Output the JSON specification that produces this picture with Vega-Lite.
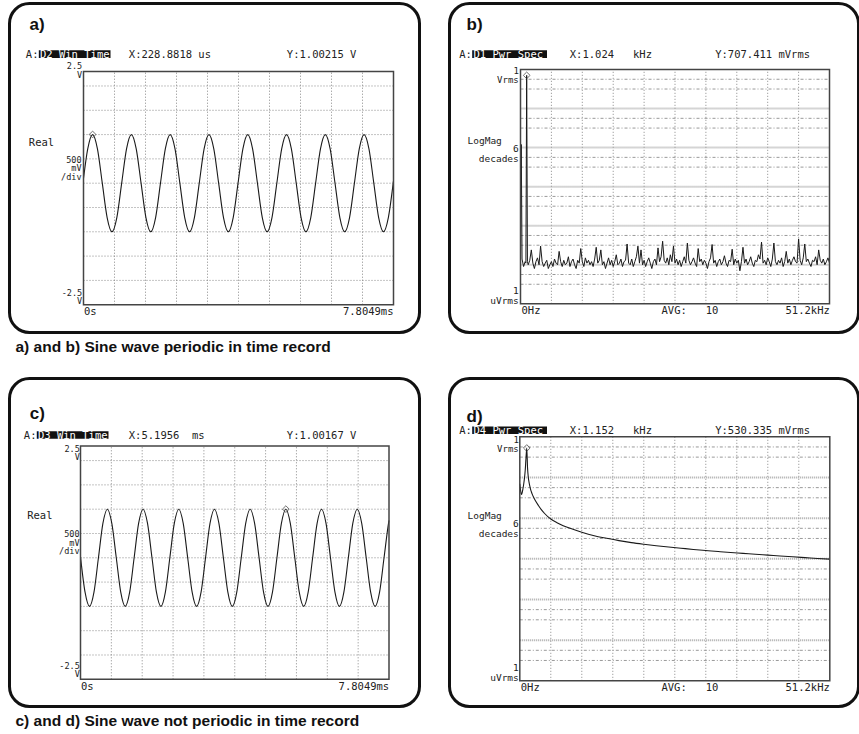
{
 "$schema": "https://vega.github.io/schema/vega-lite/v6.json",
 "background": "white",
 "padding": {"left": 7.5, "top": 1.5, "right": 0, "bottom": 0},
 "spacing": 21,
 "config": {
  "view": {"stroke": "#111", "strokeWidth": 3, "cornerRadius": 20, "fill": "white"},
  "text": {"font": "DejaVu Sans Mono", "fontSize": 10.5, "color": "#222"}
 },
 "vconcat": [
  {
   "spacing": 26,
   "title": {"text": "a) and b) Sine wave periodic in time record", "orient": "bottom", "anchor": "start", "frame": "group", "font": "Liberation Sans", "fontSize": 15.5, "fontWeight": "bold", "color": "#111", "offset": 6, "dx": 6, "baseline": "top"},
   "hconcat": [
    {
     "width": 410, "height": 329,
     "layer": [
      {"data": {"values": [{"g":0.78049},{"g":1.56098},{"g":2.34147},{"g":3.12196},{"g":3.90245},{"g":4.68294},{"g":5.46343},{"g":6.24392},{"g":7.02441}]},
       "mark": {"type": "rule", "color": "#888", "strokeDash": [1,2], "strokeWidth": 1},
       "encoding": {"x": {"field": "g", "type": "quantitative", "axis": null}, "y": {"datum": -2.5, "type": "quantitative", "axis": null}, "y2": {"datum": 2.3}}},
      {"data": {"values": [{"h":-2},{"h":-1.5},{"h":-1},{"h":-0.5},{"h":0},{"h":0.5},{"h":1},{"h":1.5},{"h":2}]},
       "mark": {"type": "rule", "color": "#888", "strokeDash": [1,2], "strokeWidth": 1},
       "encoding": {"y": {"field": "h", "type": "quantitative", "axis": null}, "x": {"datum": 0, "type": "quantitative", "axis": null}, "x2": {"datum": 7.8049}}},
      {"data": {"values": [{"t":0,"v":0.098},{"t":0.1068,"v":0.707},{"t":0.2289,"v":1},{"t":0.351,"v":0.707},{"t":0.473,"v":0},{"t":0.5951,"v":-0.707},{"t":0.7172,"v":-1},{"t":0.8393,"v":-0.707},{"t":0.9613,"v":0},{"t":1.0834,"v":0.707},{"t":1.2055,"v":1},{"t":1.3275,"v":0.707},{"t":1.4496,"v":0},{"t":1.5717,"v":-0.707},{"t":1.6937,"v":-1},{"t":1.8158,"v":-0.707},{"t":1.9379,"v":0},{"t":2.06,"v":0.707},{"t":2.182,"v":1},{"t":2.3041,"v":0.707},{"t":2.4262,"v":0},{"t":2.5482,"v":-0.707},{"t":2.6703,"v":-1},{"t":2.7924,"v":-0.707},{"t":2.9144,"v":0},{"t":3.0365,"v":0.707},{"t":3.1586,"v":1},{"t":3.2807,"v":0.707},{"t":3.4027,"v":0},{"t":3.5248,"v":-0.707},{"t":3.6469,"v":-1},{"t":3.7689,"v":-0.707},{"t":3.891,"v":0},{"t":4.0131,"v":0.707},{"t":4.1351,"v":1},{"t":4.2572,"v":0.707},{"t":4.3793,"v":0},{"t":4.5014,"v":-0.707},{"t":4.6234,"v":-1},{"t":4.7455,"v":-0.707},{"t":4.8676,"v":0},{"t":4.9896,"v":0.707},{"t":5.1117,"v":1},{"t":5.2338,"v":0.707},{"t":5.3558,"v":0},{"t":5.4779,"v":-0.707},{"t":5.6,"v":-1},{"t":5.7221,"v":-0.707},{"t":5.8441,"v":0},{"t":5.9662,"v":0.707},{"t":6.0883,"v":1},{"t":6.2103,"v":0.707},{"t":6.3324,"v":0},{"t":6.4545,"v":-0.707},{"t":6.5765,"v":-1},{"t":6.6986,"v":-0.707},{"t":6.8207,"v":0},{"t":6.9428,"v":0.707},{"t":7.0648,"v":1},{"t":7.1869,"v":0.707},{"t":7.309,"v":0},{"t":7.431,"v":-0.707},{"t":7.5531,"v":-1},{"t":7.6752,"v":-0.707},{"t":7.7972,"v":0},{"t":7.8049,"v":0.05}]},
       "mark": {"type": "line", "color": "#1a1a1a", "strokeWidth": 1.1, "interpolate": "monotone"},
       "encoding": {
        "x": {"field": "t", "type": "quantitative", "scale": {"domain": [0, 7.8049], "range": [74, 384], "nice": false, "zero": false}, "axis": null},
        "y": {"field": "v", "type": "quantitative", "scale": {"domain": [-2.5, 2.3], "range": [301.2, 67.9], "nice": false, "zero": false}, "axis": null}
       }},
      {"data": {"values": [{"t": 0.2289, "v": 1.00215}]},
       "mark": {"type": "point", "shape": "diamond", "filled": false, "size": 45, "color": "#333", "strokeWidth": 1},
       "encoding": {"x": {"field": "t", "type": "quantitative", "axis": null}, "y": {"field": "v", "type": "quantitative", "axis": null}}},
      {"data": {"values": [{}]},
       "layer": [
        {"mark": {"type": "rect", "filled": false, "stroke": "#444", "strokeWidth": 1.5},
         "encoding": {"x": {"datum": 0, "type": "quantitative", "axis": null}, "x2": {"datum": 7.8049}, "y": {"datum": -2.5, "type": "quantitative", "axis": null}, "y2": {"datum": 2.3}}},
        {"mark": {"type": "text", "font": "Liberation Sans", "fontWeight": "bold", "fontSize": 17, "color": "#111", "align": "left", "baseline": "middle"},
         "encoding": {"x": {"datum": -1.36, "type": "quantitative", "axis": null}, "y": {"datum": 3.245, "type": "quantitative", "axis": null}, "text": {"value": "a)"}}},
        {"mark": {"type": "text", "align": "right", "baseline": "middle"},
         "encoding": {"x": {"datum": -1.133, "type": "quantitative", "axis": null}, "y": {"datum": 2.644, "type": "quantitative", "axis": null}, "text": {"value": "A:"}}},
        {"mark": {"type": "rect", "color": "#111"},
         "encoding": {"x": {"datum": -1.125, "type": "quantitative", "axis": null}, "x2": {"datum": 0.68}, "y": {"datum": 2.576, "type": "quantitative", "axis": null}, "y2": {"datum": 2.735}}},
        {"mark": {"type": "text", "color": "white", "align": "left", "baseline": "middle"},
         "encoding": {"x": {"datum": -1.095, "type": "quantitative", "axis": null}, "y": {"datum": 2.644, "type": "quantitative", "axis": null}, "text": {"value": "D2 Win Time"}}},
        {"mark": {"type": "text", "align": "left", "baseline": "middle"},
         "encoding": {"x": {"datum": 1.141, "type": "quantitative", "axis": null}, "y": {"datum": 2.644, "type": "quantitative", "axis": null}, "text": {"value": "X:228.8818 us\u00a0\u00a0\u00a0\u00a0\u00a0\u00a0\u00a0\u00a0\u00a0\u00a0\u00a0\u00a0Y:1.00215 V"}}},
        {"mark": {"type": "text", "fontSize": 8.5, "align": "right", "baseline": "top", "lineHeight": 8.5},
         "encoding": {"x": {"datum": -0.033, "type": "quantitative", "axis": null}, "y": {"datum": 2.492, "type": "quantitative", "axis": null}, "text": {"value": ["2.5", "V"]}}},
        {"mark": {"type": "text", "align": "left", "baseline": "middle"},
         "encoding": {"x": {"datum": -1.377, "type": "quantitative", "axis": null}, "y": {"datum": 0.823, "type": "quantitative", "axis": null}, "text": {"value": "Real"}}},
        {"mark": {"type": "text", "fontSize": 8.5, "align": "right", "baseline": "top", "lineHeight": 8.5},
         "encoding": {"x": {"datum": -0.05, "type": "quantitative", "axis": null}, "y": {"datum": 0.56, "type": "quantitative", "axis": null}, "text": {"value": ["500", "mV", "/div"]}}},
        {"mark": {"type": "text", "fontSize": 8.5, "align": "right", "baseline": "top", "lineHeight": 8.5},
         "encoding": {"x": {"datum": -0.033, "type": "quantitative", "axis": null}, "y": {"datum": -2.17, "type": "quantitative", "axis": null}, "text": {"value": ["-2.5", "V"]}}},
        {"mark": {"type": "text", "align": "left", "baseline": "middle"},
         "encoding": {"x": {"datum": 0.013, "type": "quantitative", "axis": null}, "y": {"datum": -2.644, "type": "quantitative", "axis": null}, "text": {"value": "0s"}}},
        {"mark": {"type": "text", "align": "right", "baseline": "middle"},
         "encoding": {"x": {"datum": 7.805, "type": "quantitative", "axis": null}, "y": {"datum": -2.644, "type": "quantitative", "axis": null}, "text": {"value": "7.8049ms"}}}
       ]}
     ]
    },
    {
     "width": 409, "height": 329,
     "layer": [
      {"data": {"values": [{"g":5.12},{"g":10.24},{"g":15.36},{"g":20.48},{"g":25.6},{"g":30.72},{"g":35.84},{"g":40.96},{"g":46.08}]},
       "mark": {"type": "rule", "color": "#888", "strokeDash": [1,2], "strokeWidth": 1},
       "encoding": {"x": {"field": "g", "type": "quantitative", "axis": null}, "y": {"datum": 1, "type": "quantitative", "scale": {"type": "log"}, "axis": null}, "y2": {"datum": 1000000}}},
      {"data": {"values": [{"h":100000},{"h":10000},{"h":1000},{"h":100},{"h":10}]},
       "mark": {"type": "rule", "color": "#aaa", "strokeDash": [1,1], "strokeWidth": 2},
       "encoding": {"y": {"field": "h", "type": "quantitative", "scale": {"type": "log"}, "axis": null}, "x": {"datum": 0, "type": "quantitative", "axis": null}, "x2": {"datum": 51.2}}},
      {"data": {"values": [{"h":562341},{"h":316228},{"h":56234},{"h":31623},{"h":5623.4},{"h":3162.3},{"h":562.34},{"h":316.23},{"h":56.234},{"h":31.623},{"h":5.6234},{"h":3.1623}]},
       "mark": {"type": "rule", "color": "#999", "strokeDash": [3,2,1,2], "strokeWidth": 1},
       "encoding": {"y": {"field": "h", "type": "quantitative", "scale": {"type": "log"}, "axis": null}, "x": {"datum": 0, "type": "quantitative", "axis": null}, "x2": {"datum": 51.2}}},
      {"data": {"values": [{"f":0,"u":15},{"f":0.128,"u":12000},{"f":0.256,"u":14},{"f":0.512,"u":9},{"f":0.768,"u":12},{"f":0.896,"u":11},{"f":1.024,"u":707411},{"f":1.152,"u":12},{"f":1.28,"u":10},{"f":1.536,"u":13},{"f":1.792,"u":24},{"f":2.048,"u":11},{"f":2.304,"u":8},{"f":2.56,"u":12},{"f":2.816,"u":15},{"f":3.072,"u":10},{"f":3.328,"u":30},{"f":3.584,"u":12},{"f":3.84,"u":9},{"f":4.096,"u":11},{"f":4.352,"u":13},{"f":4.608,"u":8},{"f":4.864,"u":10},{"f":5.12,"u":12},{"f":5.376,"u":9},{"f":5.632,"u":14},{"f":5.888,"u":11},{"f":6.144,"u":10},{"f":6.4,"u":22},{"f":6.656,"u":12},{"f":6.912,"u":9},{"f":7.168,"u":13},{"f":7.424,"u":10},{"f":7.68,"u":11},{"f":7.936,"u":16},{"f":8.192,"u":9},{"f":8.448,"u":12},{"f":8.704,"u":14},{"f":8.96,"u":10},{"f":9.216,"u":8},{"f":9.472,"u":13},{"f":9.728,"u":11},{"f":9.984,"u":26},{"f":10.24,"u":12},{"f":10.496,"u":9},{"f":10.752,"u":15},{"f":11.008,"u":11},{"f":11.264,"u":13},{"f":11.52,"u":10},{"f":11.776,"u":12},{"f":12.032,"u":9},{"f":12.288,"u":14},{"f":12.544,"u":28},{"f":12.8,"u":11},{"f":13.056,"u":13},{"f":13.312,"u":24},{"f":13.568,"u":10},{"f":13.824,"u":12},{"f":14.08,"u":8},{"f":14.336,"u":11},{"f":14.592,"u":15},{"f":14.848,"u":10},{"f":15.104,"u":13},{"f":15.36,"u":9},{"f":15.616,"u":12},{"f":15.872,"u":18},{"f":16.128,"u":10},{"f":16.384,"u":11},{"f":16.64,"u":14},{"f":16.896,"u":9},{"f":17.152,"u":12},{"f":17.408,"u":13},{"f":17.664,"u":34},{"f":17.92,"u":11},{"f":18.176,"u":10},{"f":18.432,"u":14},{"f":18.688,"u":9},{"f":18.944,"u":12},{"f":19.2,"u":16},{"f":19.456,"u":30},{"f":19.712,"u":11},{"f":19.968,"u":24},{"f":20.224,"u":10},{"f":20.48,"u":13},{"f":20.736,"u":9},{"f":20.992,"u":12},{"f":21.248,"u":15},{"f":21.504,"u":11},{"f":21.76,"u":8},{"f":22.016,"u":12},{"f":22.272,"u":14},{"f":22.528,"u":10},{"f":22.784,"u":27},{"f":23.04,"u":12},{"f":23.296,"u":16},{"f":23.552,"u":40},{"f":23.808,"u":13},{"f":24.064,"u":11},{"f":24.32,"u":15},{"f":24.576,"u":10},{"f":24.832,"u":18},{"f":25.088,"u":12},{"f":25.344,"u":30},{"f":25.6,"u":11},{"f":25.856,"u":14},{"f":26.112,"u":10},{"f":26.368,"u":13},{"f":26.624,"u":9},{"f":26.88,"u":12},{"f":27.136,"u":16},{"f":27.392,"u":11},{"f":27.648,"u":36},{"f":27.904,"u":13},{"f":28.16,"u":10},{"f":28.416,"u":12},{"f":28.672,"u":15},{"f":28.928,"u":11},{"f":29.184,"u":9},{"f":29.44,"u":26},{"f":29.696,"u":12},{"f":29.952,"u":14},{"f":30.208,"u":10},{"f":30.464,"u":13},{"f":30.72,"u":11},{"f":30.976,"u":8},{"f":31.232,"u":12},{"f":31.488,"u":15},{"f":31.744,"u":33},{"f":32,"u":11},{"f":32.256,"u":13},{"f":32.512,"u":9},{"f":32.768,"u":12},{"f":33.024,"u":14},{"f":33.28,"u":10},{"f":33.536,"u":12},{"f":33.792,"u":17},{"f":34.048,"u":11},{"f":34.304,"u":9},{"f":34.56,"u":13},{"f":34.816,"u":12},{"f":35.072,"u":25},{"f":35.328,"u":10},{"f":35.584,"u":14},{"f":35.84,"u":11},{"f":36.096,"u":13},{"f":36.352,"u":7},{"f":36.608,"u":12},{"f":36.864,"u":28},{"f":37.12,"u":11},{"f":37.376,"u":14},{"f":37.632,"u":10},{"f":37.888,"u":12},{"f":38.144,"u":16},{"f":38.4,"u":11},{"f":38.656,"u":9},{"f":38.912,"u":13},{"f":39.168,"u":12},{"f":39.424,"u":18},{"f":39.68,"u":14},{"f":39.936,"u":38},{"f":40.192,"u":11},{"f":40.448,"u":13},{"f":40.704,"u":10},{"f":40.96,"u":15},{"f":41.216,"u":12},{"f":41.472,"u":9},{"f":41.728,"u":14},{"f":41.984,"u":36},{"f":42.24,"u":12},{"f":42.496,"u":10},{"f":42.752,"u":13},{"f":43.008,"u":11},{"f":43.264,"u":15},{"f":43.52,"u":9},{"f":43.776,"u":12},{"f":44.032,"u":22},{"f":44.288,"u":11},{"f":44.544,"u":14},{"f":44.8,"u":10},{"f":45.056,"u":13},{"f":45.312,"u":16},{"f":45.568,"u":12},{"f":45.824,"u":11},{"f":46.08,"u":46},{"f":46.336,"u":13},{"f":46.592,"u":10},{"f":46.848,"u":15},{"f":47.104,"u":34},{"f":47.36,"u":12},{"f":47.616,"u":14},{"f":47.872,"u":11},{"f":48.128,"u":9},{"f":48.384,"u":13},{"f":48.64,"u":12},{"f":48.896,"u":16},{"f":49.152,"u":10},{"f":49.408,"u":24},{"f":49.664,"u":13},{"f":49.92,"u":11},{"f":50.176,"u":14},{"f":50.432,"u":10},{"f":50.688,"u":12},{"f":50.944,"u":15},{"f":51.2,"u":11}]},
       "mark": {"type": "line", "color": "#1a1a1a", "strokeWidth": 1},
       "encoding": {
        "x": {"field": "f", "type": "quantitative", "scale": {"domain": [0, 51.2], "range": [71, 380], "nice": false, "zero": false}, "axis": null},
        "y": {"field": "u", "type": "quantitative", "scale": {"type": "log", "domain": [1, 1000000], "range": [300.3, 66], "nice": false, "zero": false}, "axis": null}
       }},
      {"data": {"values": [{"f": 1.024, "u": 707411}]},
       "mark": {"type": "point", "shape": "diamond", "filled": false, "size": 45, "color": "#333", "strokeWidth": 1},
       "encoding": {"x": {"field": "f", "type": "quantitative", "axis": null}, "y": {"field": "u", "type": "quantitative", "scale": {"type": "log"}, "axis": null}}},
      {"data": {"values": [{}]},
       "layer": [
        {"mark": {"type": "rect", "filled": false, "stroke": "#444", "strokeWidth": 1.5},
         "encoding": {"x": {"datum": 0, "type": "quantitative", "axis": null}, "x2": {"datum": 51.2}, "y": {"datum": 1, "type": "quantitative", "scale": {"type": "log"}, "axis": null}, "y2": {"datum": 1000000}}},
        {"mark": {"type": "text", "font": "Liberation Sans", "fontWeight": "bold", "fontSize": 17, "color": "#111", "align": "left", "baseline": "middle"},
         "encoding": {"x": {"datum": -8.948, "type": "quantitative", "axis": null}, "y": {"datum": 13400000, "type": "quantitative", "scale": {"type": "log"}, "axis": null}, "text": {"value": "b)"}}},
        {"mark": {"type": "text", "align": "right", "baseline": "middle"},
         "encoding": {"x": {"datum": -8.053, "type": "quantitative", "axis": null}, "y": {"datum": 2393000, "type": "quantitative", "scale": {"type": "log"}, "axis": null}, "text": {"value": "A:"}}},
        {"mark": {"type": "rect", "color": "#111"},
         "encoding": {"x": {"datum": -8.003, "type": "quantitative", "axis": null}, "x2": {"datum": 4.391}, "y": {"datum": 1968000, "type": "quantitative", "scale": {"type": "log"}, "axis": null}, "y2": {"datum": 3103000}}},
        {"mark": {"type": "text", "color": "white", "align": "left", "baseline": "middle"},
         "encoding": {"x": {"datum": -7.788, "type": "quantitative", "axis": null}, "y": {"datum": 2393000, "type": "quantitative", "scale": {"type": "log"}, "axis": null}, "text": {"value": "D1 Pwr Spec"}}},
        {"mark": {"type": "text", "align": "left", "baseline": "middle"},
         "encoding": {"x": {"datum": 8.169, "type": "quantitative", "axis": null}, "y": {"datum": 2393000, "type": "quantitative", "scale": {"type": "log"}, "axis": null}, "text": {"value": "X:1.024\u00a0\u00a0\u00a0kHz\u00a0\u00a0\u00a0\u00a0\u00a0\u00a0\u00a0\u00a0\u00a0\u00a0Y:707.411 mVrms"}}},
        {"mark": {"type": "text", "fontSize": 9, "align": "right", "baseline": "top", "lineHeight": 9},
         "encoding": {"x": {"datum": -0.282, "type": "quantitative", "axis": null}, "y": {"datum": 1153000, "type": "quantitative", "scale": {"type": "log"}, "axis": null}, "text": {"value": ["1", "Vrms"]}}},
        {"mark": {"type": "text", "fontSize": 9.5, "align": "left", "baseline": "middle"},
         "encoding": {"x": {"datum": -8.782, "type": "quantitative", "axis": null}, "y": {"datum": 14590, "type": "quantitative", "scale": {"type": "log"}, "axis": null}, "text": {"value": "LogMag"}}},
        {"mark": {"type": "text", "fontSize": 9.5, "align": "right", "baseline": "top", "lineHeight": 10},
         "encoding": {"x": {"datum": -0.282, "type": "quantitative", "axis": null}, "y": {"datum": 12300, "type": "quantitative", "scale": {"type": "log"}, "axis": null}, "text": {"value": ["6", "decades"]}}},
        {"mark": {"type": "text", "fontSize": 9.5, "align": "right", "baseline": "top", "lineHeight": 10},
         "encoding": {"x": {"datum": -0.282, "type": "quantitative", "axis": null}, "y": {"datum": 2.84, "type": "quantitative", "scale": {"type": "log"}, "axis": null}, "text": {"value": ["1", "uVrms"]}}},
        {"mark": {"type": "text", "align": "left", "baseline": "middle"},
         "encoding": {"x": {"datum": 0.166, "type": "quantitative", "axis": null}, "y": {"datum": 0.658, "type": "quantitative", "scale": {"type": "log"}, "axis": null}, "text": {"value": "0Hz"}}},
        {"mark": {"type": "text", "align": "left", "baseline": "middle"},
         "encoding": {"x": {"datum": 23.364, "type": "quantitative", "axis": null}, "y": {"datum": 0.658, "type": "quantitative", "scale": {"type": "log"}, "axis": null}, "text": {"value": "AVG:\u00a0\u00a0\u00a010"}}},
        {"mark": {"type": "text", "align": "right", "baseline": "middle"},
         "encoding": {"x": {"datum": 51.25, "type": "quantitative", "axis": null}, "y": {"datum": 0.658, "type": "quantitative", "scale": {"type": "log"}, "axis": null}, "text": {"value": "51.2kHz"}}}
       ]}
     ]
    }
   ]
  },
  {
   "spacing": 26,
   "title": {"text": "c) and d) Sine wave not periodic in time record", "orient": "bottom", "anchor": "start", "frame": "group", "font": "Liberation Sans", "fontSize": 15.5, "fontWeight": "bold", "color": "#111", "offset": 6, "dx": 6, "baseline": "top"},
   "hconcat": [
    {
     "width": 410, "height": 328,
     "layer": [
      {"data": {"values": [{"g":0.78049},{"g":1.56098},{"g":2.34147},{"g":3.12196},{"g":3.90245},{"g":4.68294},{"g":5.46343},{"g":6.24392},{"g":7.02441}]},
       "mark": {"type": "rule", "color": "#888", "strokeDash": [1,2], "strokeWidth": 1},
       "encoding": {"x": {"field": "g", "type": "quantitative", "axis": null}, "y": {"datum": -2.5, "type": "quantitative", "axis": null}, "y2": {"datum": 2.3}}},
      {"data": {"values": [{"h":-2},{"h":-1.5},{"h":-1},{"h":-0.5},{"h":0},{"h":0.5},{"h":1},{"h":1.5},{"h":2}]},
       "mark": {"type": "rule", "color": "#888", "strokeDash": [1,2], "strokeWidth": 1},
       "encoding": {"y": {"field": "h", "type": "quantitative", "axis": null}, "x": {"datum": 0, "type": "quantitative", "axis": null}, "x2": {"datum": 7.8049}}},
      {"data": {"values": [{"t":0,"v":0.02},{"t":0.1151,"v":-0.707},{"t":0.228,"v":-1},{"t":0.3409,"v":-0.707},{"t":0.4538,"v":0},{"t":0.5667,"v":0.707},{"t":0.6796,"v":1},{"t":0.7925,"v":0.707},{"t":0.9054,"v":0},{"t":1.0183,"v":-0.707},{"t":1.1312,"v":-1},{"t":1.2441,"v":-0.707},{"t":1.357,"v":0},{"t":1.4699,"v":0.707},{"t":1.5828,"v":1},{"t":1.6957,"v":0.707},{"t":1.8086,"v":0},{"t":1.9215,"v":-0.707},{"t":2.0344,"v":-1},{"t":2.1473,"v":-0.707},{"t":2.2602,"v":0},{"t":2.3731,"v":0.707},{"t":2.486,"v":1},{"t":2.5989,"v":0.707},{"t":2.7118,"v":0},{"t":2.8247,"v":-0.707},{"t":2.9376,"v":-1},{"t":3.0505,"v":-0.707},{"t":3.1634,"v":0},{"t":3.2763,"v":0.707},{"t":3.3892,"v":1},{"t":3.5021,"v":0.707},{"t":3.615,"v":0},{"t":3.7279,"v":-0.707},{"t":3.8408,"v":-1},{"t":3.9537,"v":-0.707},{"t":4.0666,"v":0},{"t":4.1795,"v":0.707},{"t":4.2924,"v":1},{"t":4.4053,"v":0.707},{"t":4.5182,"v":0},{"t":4.6311,"v":-0.707},{"t":4.744,"v":-1},{"t":4.8569,"v":-0.707},{"t":4.9698,"v":0},{"t":5.0827,"v":0.707},{"t":5.1956,"v":1},{"t":5.3085,"v":0.707},{"t":5.4214,"v":0},{"t":5.5343,"v":-0.707},{"t":5.6472,"v":-1},{"t":5.7601,"v":-0.707},{"t":5.873,"v":0},{"t":5.9859,"v":0.707},{"t":6.0988,"v":1},{"t":6.2117,"v":0.707},{"t":6.3246,"v":0},{"t":6.4375,"v":-0.707},{"t":6.5504,"v":-1},{"t":6.6633,"v":-0.707},{"t":6.7762,"v":0},{"t":6.8891,"v":0.707},{"t":7.002,"v":1},{"t":7.1149,"v":0.707},{"t":7.2278,"v":0},{"t":7.3407,"v":-0.707},{"t":7.4536,"v":-1},{"t":7.5665,"v":-0.707},{"t":7.6794,"v":0},{"t":7.7923,"v":0.707},{"t":7.8049,"v":0.77}]},
       "mark": {"type": "line", "color": "#1a1a1a", "strokeWidth": 1.1, "interpolate": "monotone"},
       "encoding": {
        "x": {"field": "t", "type": "quantitative", "scale": {"domain": [0, 7.8049], "range": [71, 379.5], "nice": false, "zero": false}, "axis": null},
        "y": {"field": "v", "type": "quantitative", "scale": {"domain": [-2.5, 2.3], "range": [300.8, 67.5], "nice": false, "zero": false}, "axis": null}
       }},
      {"data": {"values": [{"t": 5.1956, "v": 1.00167}]},
       "mark": {"type": "point", "shape": "diamond", "filled": false, "size": 45, "color": "#333", "strokeWidth": 1},
       "encoding": {"x": {"field": "t", "type": "quantitative", "axis": null}, "y": {"field": "v", "type": "quantitative", "axis": null}}},
      {"data": {"values": [{}]},
       "layer": [
        {"mark": {"type": "rect", "filled": false, "stroke": "#444", "strokeWidth": 1.5},
         "encoding": {"x": {"datum": 0, "type": "quantitative", "axis": null}, "x2": {"datum": 7.8049}, "y": {"datum": -2.5, "type": "quantitative", "axis": null}, "y2": {"datum": 2.3}}},
        {"mark": {"type": "text", "font": "Liberation Sans", "fontWeight": "bold", "fontSize": 17, "color": "#111", "align": "left", "baseline": "middle"},
         "encoding": {"x": {"datum": -1.283, "type": "quantitative", "axis": null}, "y": {"datum": 2.96, "type": "quantitative", "axis": null}, "text": {"value": "c)"}}},
        {"mark": {"type": "text", "align": "right", "baseline": "middle"},
         "encoding": {"x": {"datum": -1.113, "type": "quantitative", "axis": null}, "y": {"datum": 2.512, "type": "quantitative", "axis": null}, "text": {"value": "A:"}}},
        {"mark": {"type": "rect", "color": "#111"},
         "encoding": {"x": {"datum": -1.106, "type": "quantitative", "axis": null}, "x2": {"datum": 0.708}, "y": {"datum": 2.451, "type": "quantitative", "axis": null}, "y2": {"datum": 2.603}}},
        {"mark": {"type": "text", "color": "white", "align": "left", "baseline": "middle"},
         "encoding": {"x": {"datum": -1.075, "type": "quantitative", "axis": null}, "y": {"datum": 2.512, "type": "quantitative", "axis": null}, "text": {"value": "D3 Win Time"}}},
        {"mark": {"type": "text", "align": "left", "baseline": "middle"},
         "encoding": {"x": {"datum": 1.222, "type": "quantitative", "axis": null}, "y": {"datum": 2.512, "type": "quantitative", "axis": null}, "text": {"value": "X:5.1956\u00a0\u00a0ms\u00a0\u00a0\u00a0\u00a0\u00a0\u00a0\u00a0\u00a0\u00a0\u00a0\u00a0\u00a0\u00a0Y:1.00167 V"}}},
        {"mark": {"type": "text", "fontSize": 8.5, "align": "right", "baseline": "top", "lineHeight": 8.5},
         "encoding": {"x": {"datum": -0.018, "type": "quantitative", "axis": null}, "y": {"datum": 2.33, "type": "quantitative", "axis": null}, "text": {"value": ["2.5", "V"]}}},
        {"mark": {"type": "text", "align": "left", "baseline": "middle"},
         "encoding": {"x": {"datum": -1.348, "type": "quantitative", "axis": null}, "y": {"datum": 0.856, "type": "quantitative", "axis": null}, "text": {"value": "Real"}}},
        {"mark": {"type": "text", "fontSize": 8.5, "align": "right", "baseline": "top", "lineHeight": 8.5},
         "encoding": {"x": {"datum": -0.025, "type": "quantitative", "axis": null}, "y": {"datum": 0.57, "type": "quantitative", "axis": null}, "text": {"value": ["500", "mV", "/div"]}}},
        {"mark": {"type": "text", "fontSize": 8.5, "align": "right", "baseline": "top", "lineHeight": 8.5},
         "encoding": {"x": {"datum": -0.018, "type": "quantitative", "axis": null}, "y": {"datum": -2.14, "type": "quantitative", "axis": null}, "text": {"value": ["-2.5", "V"]}}},
        {"mark": {"type": "text", "align": "left", "baseline": "middle"},
         "encoding": {"x": {"datum": 0.013, "type": "quantitative", "axis": null}, "y": {"datum": -2.663, "type": "quantitative", "axis": null}, "text": {"value": "0s"}}},
        {"mark": {"type": "text", "align": "right", "baseline": "middle"},
         "encoding": {"x": {"datum": 7.81, "type": "quantitative", "axis": null}, "y": {"datum": -2.663, "type": "quantitative", "axis": null}, "text": {"value": "7.8049ms"}}}
       ]}
     ]
    },
    {
     "width": 409, "height": 328,
     "layer": [
      {"data": {"values": [{"g":5.12},{"g":10.24},{"g":15.36},{"g":20.48},{"g":25.6},{"g":30.72},{"g":35.84},{"g":40.96},{"g":46.08}]},
       "mark": {"type": "rule", "color": "#888", "strokeDash": [1,2], "strokeWidth": 1},
       "encoding": {"x": {"field": "g", "type": "quantitative", "axis": null}, "y": {"datum": 1, "type": "quantitative", "scale": {"type": "log"}, "axis": null}, "y2": {"datum": 1000000}}},
      {"data": {"values": [{"h":100000},{"h":10000},{"h":1000},{"h":100},{"h":10}]},
       "mark": {"type": "rule", "color": "#aaa", "strokeDash": [1,1], "strokeWidth": 2},
       "encoding": {"y": {"field": "h", "type": "quantitative", "scale": {"type": "log"}, "axis": null}, "x": {"datum": 0, "type": "quantitative", "axis": null}, "x2": {"datum": 51.2}}},
      {"data": {"values": [{"h":562341},{"h":316228},{"h":56234},{"h":31623},{"h":5623.4},{"h":3162.3},{"h":562.34},{"h":316.23},{"h":56.234},{"h":31.623},{"h":5.6234},{"h":3.1623}]},
       "mark": {"type": "rule", "color": "#999", "strokeDash": [3,2,1,2], "strokeWidth": 1},
       "encoding": {"y": {"field": "h", "type": "quantitative", "scale": {"type": "log"}, "axis": null}, "x": {"datum": 0, "type": "quantitative", "axis": null}, "x2": {"datum": 51.2}}},
      {"data": {"values": [{"f":0,"u":70000},{"f":0.128,"u":48000},{"f":0.256,"u":38000},{"f":0.384,"u":42000},{"f":0.512,"u":52000},{"f":0.64,"u":68000},{"f":0.768,"u":95000},{"f":0.896,"u":150000},{"f":1.024,"u":300000},{"f":1.152,"u":530335},{"f":1.28,"u":170000},{"f":1.408,"u":100000},{"f":1.536,"u":75000},{"f":1.664,"u":60000},{"f":1.792,"u":50000},{"f":1.92,"u":44000},{"f":2.048,"u":39000},{"f":2.304,"u":32000},{"f":2.56,"u":27000},{"f":3.072,"u":20500},{"f":3.584,"u":16000},{"f":4.096,"u":13000},{"f":5.12,"u":9500},{"f":6.144,"u":7700},{"f":7.168,"u":6500},{"f":8.192,"u":5700},{"f":10.24,"u":4500},{"f":12.288,"u":3700},{"f":14.336,"u":3200},{"f":16.384,"u":2800},{"f":18.432,"u":2500},{"f":20.48,"u":2280},{"f":22.528,"u":2100},{"f":24.576,"u":1950},{"f":26.624,"u":1820},{"f":28.672,"u":1700},{"f":30.72,"u":1600},{"f":32.768,"u":1510},{"f":34.816,"u":1430},{"f":36.864,"u":1360},{"f":38.912,"u":1290},{"f":40.96,"u":1230},{"f":43.008,"u":1170},{"f":45.056,"u":1120},{"f":47.104,"u":1070},{"f":49.152,"u":1020},{"f":51.2,"u":980}]},
       "mark": {"type": "line", "color": "#1a1a1a", "strokeWidth": 1.1, "interpolate": "monotone"},
       "encoding": {
        "x": {"field": "f", "type": "quantitative", "scale": {"domain": [0, 51.2], "range": [70.3, 380.3], "nice": false, "zero": false}, "axis": null},
        "y": {"field": "u", "type": "quantitative", "scale": {"type": "log", "domain": [1, 1000000], "range": [302.3, 58.3], "nice": false, "zero": false}, "axis": null}
       }},
      {"data": {"values": [{"f": 1.152, "u": 530335}]},
       "mark": {"type": "point", "shape": "diamond", "filled": false, "size": 45, "color": "#333", "strokeWidth": 1},
       "encoding": {"x": {"field": "f", "type": "quantitative", "axis": null}, "y": {"field": "u", "type": "quantitative", "scale": {"type": "log"}, "axis": null}}},
      {"data": {"values": [{}]},
       "layer": [
        {"mark": {"type": "rect", "filled": false, "stroke": "#444", "strokeWidth": 1.5},
         "encoding": {"x": {"datum": 0, "type": "quantitative", "axis": null}, "x2": {"datum": 51.2}, "y": {"datum": 1, "type": "quantitative", "scale": {"type": "log"}, "axis": null}, "y2": {"datum": 1000000}}},
        {"mark": {"type": "text", "font": "Liberation Sans", "fontWeight": "bold", "fontSize": 17, "color": "#111", "align": "left", "baseline": "middle"},
         "encoding": {"x": {"datum": -8.803, "type": "quantitative", "axis": null}, "y": {"datum": 3063000, "type": "quantitative", "scale": {"type": "log"}, "axis": null}, "text": {"value": "d)"}}},
        {"mark": {"type": "text", "align": "right", "baseline": "middle"},
         "encoding": {"x": {"datum": -7.911, "type": "quantitative", "axis": null}, "y": {"datum": 1396000, "type": "quantitative", "scale": {"type": "log"}, "axis": null}, "text": {"value": "A:"}}},
        {"mark": {"type": "rect", "color": "#111"},
         "encoding": {"x": {"datum": -7.861, "type": "quantitative", "axis": null}, "x2": {"datum": 4.492}, "y": {"datum": 1178000, "type": "quantitative", "scale": {"type": "log"}, "axis": null}, "y2": {"datum": 1790000}}},
        {"mark": {"type": "text", "color": "white", "align": "left", "baseline": "middle"},
         "encoding": {"x": {"datum": -7.647, "type": "quantitative", "axis": null}, "y": {"datum": 1396000, "type": "quantitative", "scale": {"type": "log"}, "axis": null}, "text": {"value": "D4 Pwr Spec"}}},
        {"mark": {"type": "text", "align": "left", "baseline": "middle"},
         "encoding": {"x": {"datum": 8.258, "type": "quantitative", "axis": null}, "y": {"datum": 1396000, "type": "quantitative", "scale": {"type": "log"}, "axis": null}, "text": {"value": "X:1.152\u00a0\u00a0\u00a0kHz\u00a0\u00a0\u00a0\u00a0\u00a0\u00a0\u00a0\u00a0\u00a0\u00a0Y:530.335 mVrms"}}},
        {"mark": {"type": "text", "fontSize": 9, "align": "right", "baseline": "top", "lineHeight": 9},
         "encoding": {"x": {"datum": -0.165, "type": "quantitative", "axis": null}, "y": {"datum": 1040000, "type": "quantitative", "scale": {"type": "log"}, "axis": null}, "text": {"value": ["1", "Vrms"]}}},
        {"mark": {"type": "text", "fontSize": 9.5, "align": "left", "baseline": "middle"},
         "encoding": {"x": {"datum": -8.637, "type": "quantitative", "axis": null}, "y": {"datum": 11150, "type": "quantitative", "scale": {"type": "log"}, "axis": null}, "text": {"value": "LogMag"}}},
        {"mark": {"type": "text", "fontSize": 9.5, "align": "right", "baseline": "top", "lineHeight": 10},
         "encoding": {"x": {"datum": -0.165, "type": "quantitative", "axis": null}, "y": {"datum": 9460, "type": "quantitative", "scale": {"type": "log"}, "axis": null}, "text": {"value": ["6", "decades"]}}},
        {"mark": {"type": "text", "fontSize": 9.5, "align": "right", "baseline": "top", "lineHeight": 10},
         "encoding": {"x": {"datum": -0.165, "type": "quantitative", "axis": null}, "y": {"datum": 2.72, "type": "quantitative", "scale": {"type": "log"}, "axis": null}, "text": {"value": ["1", "uVrms"]}}},
        {"mark": {"type": "text", "align": "left", "baseline": "middle"},
         "encoding": {"x": {"datum": 0.165, "type": "quantitative", "axis": null}, "y": {"datum": 0.658, "type": "quantitative", "scale": {"type": "log"}, "axis": null}, "text": {"value": "0Hz"}}},
        {"mark": {"type": "text", "align": "left", "baseline": "middle"},
         "encoding": {"x": {"datum": 23.39, "type": "quantitative", "axis": null}, "y": {"datum": 0.658, "type": "quantitative", "scale": {"type": "log"}, "axis": null}, "text": {"value": "AVG:\u00a0\u00a0\u00a010"}}},
        {"mark": {"type": "text", "align": "right", "baseline": "middle"},
         "encoding": {"x": {"datum": 51.2, "type": "quantitative", "axis": null}, "y": {"datum": 0.658, "type": "quantitative", "scale": {"type": "log"}, "axis": null}, "text": {"value": "51.2kHz"}}}
       ]}
     ]
    }
   ]
  }
 ]
}
